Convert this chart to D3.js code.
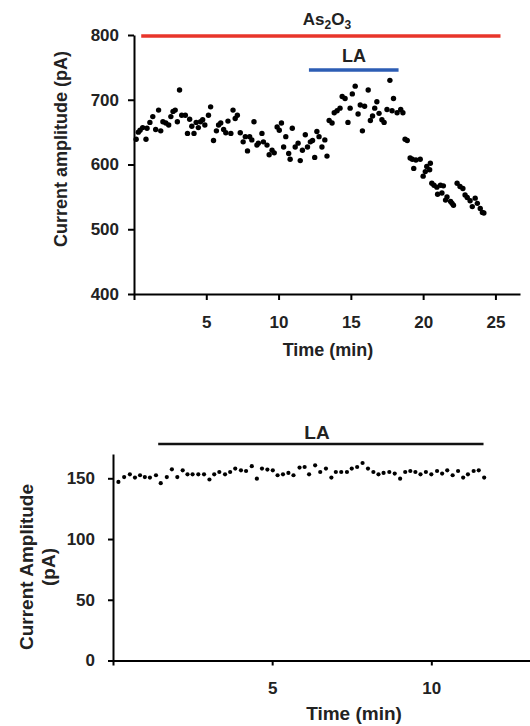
<!DOCTYPE html>
<html>
<head>
<meta charset="utf-8">
<script src="https://cdn.jsdelivr.net/npm/d3@7"></script>
<style>
  body { margin: 0; background: #fff; }
  svg { display: block; font-family: "Liberation Sans", Arial, sans-serif; }
  .axis path, .axis line { stroke: #000; stroke-width: 2; }
  .axis text { font-size: 17px; font-weight: bold; fill: #222; }
  .title { font-weight: bold; fill: #222; }
</style>
</head>
<body>
<div id="chart"></div>
<script>
// ---- top panel: As2O3 then LA ----
const topTime = [0.15,0.3,0.42,0.6,0.83,0.9,1.1,1.3,1.5,1.7,1.85,2.0,2.2,2.4,2.55,2.7,2.85,3.0,3.15,3.3,
  3.55,3.7,3.85,4.0,4.15,4.3,4.45,4.6,4.75,4.9,5.15,5.3,5.5,5.7,5.85,6.0,6.2,6.35,6.5,6.7,
  6.85,7.0,7.15,7.35,7.55,7.7,7.85,8.0,8.15,8.3,8.5,8.6,8.85,8.95,9.2,9.35,9.55,9.7,9.9,10.05,
  10.2,10.35,10.5,10.7,10.8,10.95,11.15,11.35,11.5,11.65,11.85,12.0,12.2,12.35,12.5,12.65,12.8,13.0,13.2,13.35,
  13.5,13.7,13.85,14.05,14.25,14.4,14.6,14.8,14.95,15.1,15.3,15.5,15.65,15.8,15.95,16.2,16.35,16.5,16.65,16.8,
  16.95,17.15,17.3,17.5,17.7,17.85,17.95,18.2,18.45,18.6,18.75,18.9,19.1,19.25,19.35,19.5,19.8,20.0,20.15,20.25,
  20.45,20.5,20.6,20.75,20.95,21.0,21.2,21.3,21.4,21.55,21.65,21.9,22.0,22.1,22.35,22.55,22.75,22.9,23.05,23.25,
  23.4,23.6,23.75,23.95,24.1,24.2];
const topAmp = [639,650,653,657,639,656,665,674,654,684,652,666,664,661,674,682,684,666,715,676,
  676,648,670,659,648,665,657,666,669,661,676,689,637,652,661,664,654,649,667,648,
  684,671,676,649,635,643,621,643,638,666,630,633,648,635,630,615,622,618,658,653,
  664,627,643,617,608,656,627,633,606,622,646,627,635,637,611,651,643,627,638,613,
  668,664,680,683,687,705,702,665,687,709,721,678,692,652,690,715,668,675,687,697,
  679,669,665,685,730,683,702,680,685,680,639,637,610,608,594,607,608,582,589,597,
  592,602,571,568,565,554,568,556,567,545,550,543,540,537,571,566,563,553,549,544,
  535,548,540,532,526,525];
const topXTicks = [0, 5, 10, 15, 20, 25];
const topYTicks = [400, 500, 600, 700, 800];
const arsenicSpan = [0.5, 25.35];
const laSpanTop = [12.1, 18.3];

// ---- bottom panel: LA alone ----
const botTime = [0.17,0.35,0.53,0.69,0.85,1.0,1.16,1.35,1.5,1.69,1.85,2.02,2.19,2.34,2.5,2.68,2.86,3.03,3.18,3.34,
  3.52,3.68,3.84,4.02,4.18,4.36,4.52,4.68,4.85,5.02,5.17,5.34,5.51,5.67,5.86,6.02,6.16,6.35,6.51,6.69,
  6.86,7.0,7.17,7.35,7.5,7.67,7.84,8.01,8.18,8.34,8.5,8.68,8.85,9.02,9.18,9.34,9.5,9.66,9.83,10.0,
  10.18,10.34,10.5,10.67,10.84,11.0,11.15,11.33,11.49,11.66];
const botAmp = [147,151,153.3,150.6,152.5,151,150.6,152.5,146,151,157.4,151,156.6,153.3,153.3,153.3,153.3,149,153.3,155.2,
  153.3,155.2,158,156.6,156,160,149.7,158,157.2,156.6,152.5,153.3,154.4,152.5,158.8,159.3,153.3,160.7,155.2,158,
  150.6,155.2,155.2,155.2,158,159.3,162.6,158,155.2,153.3,154.4,155.2,153.9,149.7,155.2,156,155.2,153.3,155.2,153.3,
  156,153.9,156.6,152.5,156,150.6,153.3,156,156.6,150.6];
const botXTicks = [0, 5, 10];
const botYTicks = [0, 50, 100, 150];
const laSpanBot = [1.42, 11.64];

const W = 530, H = 726;
const svg = d3.select("#chart").append("svg").attr("width", W).attr("height", H);

const noZero = d => d === 0 ? "" : d;

// ================== Top chart ==================
const x1 = d3.scaleLinear().domain([0, 26.7]).range([134, 520]);
const y1 = d3.scaleLinear().domain([400, 800]).range([294, 35]);

svg.append("g").attr("class", "axis")
  .attr("transform", `translate(0,${y1(400)})`)
  .call(d3.axisBottom(x1).tickValues(topXTicks).tickSize(6).tickSizeOuter(0).tickPadding(16).tickFormat(noZero));
svg.append("g").attr("class", "axis")
  .attr("transform", `translate(${x1(0)},0)`)
  .call(d3.axisLeft(y1).tickValues(topYTicks).tickSize(6).tickSizeOuter(0).tickPadding(9));

svg.append("g").selectAll("circle")
  .data(topTime.map((t, i) => [t, topAmp[i]]))
  .enter().append("circle")
  .attr("cx", d => x1(d[0]))
  .attr("cy", d => y1(d[1]))
  .attr("r", 2.7)
  .attr("fill", "#000");

// treatment bars
svg.append("line")
  .attr("x1", x1(arsenicSpan[0])).attr("x2", x1(arsenicSpan[1]))
  .attr("y1", y1(800) + 1).attr("y2", y1(800) + 1)
  .attr("stroke", "#e8352b").attr("stroke-width", 3.5);
svg.append("line")
  .attr("x1", x1(laSpanTop[0])).attr("x2", x1(laSpanTop[1]))
  .attr("y1", 70).attr("y2", 70)
  .attr("stroke", "#2c5db4").attr("stroke-width", 3.5);

const as = svg.append("text").attr("class", "title")
  .attr("x", 327).attr("y", 25).attr("text-anchor", "middle").style("font-size", "17px");
as.append("tspan").text("As");
as.append("tspan").attr("dy", 4).style("font-size", "12px").text("2");
as.append("tspan").attr("dy", -4).text("O");
as.append("tspan").attr("dy", 4).style("font-size", "12px").text("3");

svg.append("text").attr("class", "title")
  .attr("x", 354).attr("y", 62).attr("text-anchor", "middle")
  .style("font-size", "18px").text("LA");

svg.append("text").attr("class", "title")
  .attr("x", 328).attr("y", 356).attr("text-anchor", "middle")
  .style("font-size", "18px").text("Time (min)");

svg.append("text").attr("class", "title")
  .attr("transform", "translate(67,149) rotate(-90)")
  .attr("text-anchor", "middle")
  .style("font-size", "18px").text("Current amplitude (pA)");

// ================== Bottom chart ==================
const x2 = d3.scaleLinear().domain([0, 13.1]).range([113, 530]);
const y2 = d3.scaleLinear().domain([0, 170]).range([660.5, 454]);

svg.append("g").attr("class", "axis")
  .attr("transform", `translate(0,${y2(0)})`)
  .call(d3.axisBottom(x2).tickValues(botXTicks).tickSize(5).tickSizeOuter(0).tickPadding(16).tickFormat(noZero));
svg.append("g").attr("class", "axis")
  .attr("transform", `translate(${x2(0)},0)`)
  .call(d3.axisLeft(y2).tickValues(botYTicks).tickSize(5).tickSizeOuter(0).tickPadding(13));

svg.append("g").selectAll("circle")
  .data(botTime.map((t, i) => [t, botAmp[i]]))
  .enter().append("circle")
  .attr("cx", d => x2(d[0]))
  .attr("cy", d => y2(d[1]))
  .attr("r", 2.1)
  .attr("fill", "#000");

svg.append("line")
  .attr("x1", x2(laSpanBot[0])).attr("x2", x2(laSpanBot[1]))
  .attr("y1", 444).attr("y2", 444)
  .attr("stroke", "#111").attr("stroke-width", 2.5);

svg.append("text").attr("class", "title")
  .attr("x", 317).attr("y", 439).attr("text-anchor", "middle")
  .style("font-size", "19px").text("LA");

svg.append("text").attr("class", "title")
  .attr("x", 354).attr("y", 720).attr("text-anchor", "middle")
  .style("font-size", "19px").text("Time (min)");

const yl = svg.append("text").attr("class", "title")
  .attr("transform", "translate(33,567) rotate(-90)")
  .attr("text-anchor", "middle")
  .style("font-size", "19px");
yl.append("tspan").attr("x", 0).attr("y", 0).text("Current Amplitude");
yl.append("tspan").attr("x", 0).attr("y", 22).text("(pA)");
</script>
</body>
</html>
